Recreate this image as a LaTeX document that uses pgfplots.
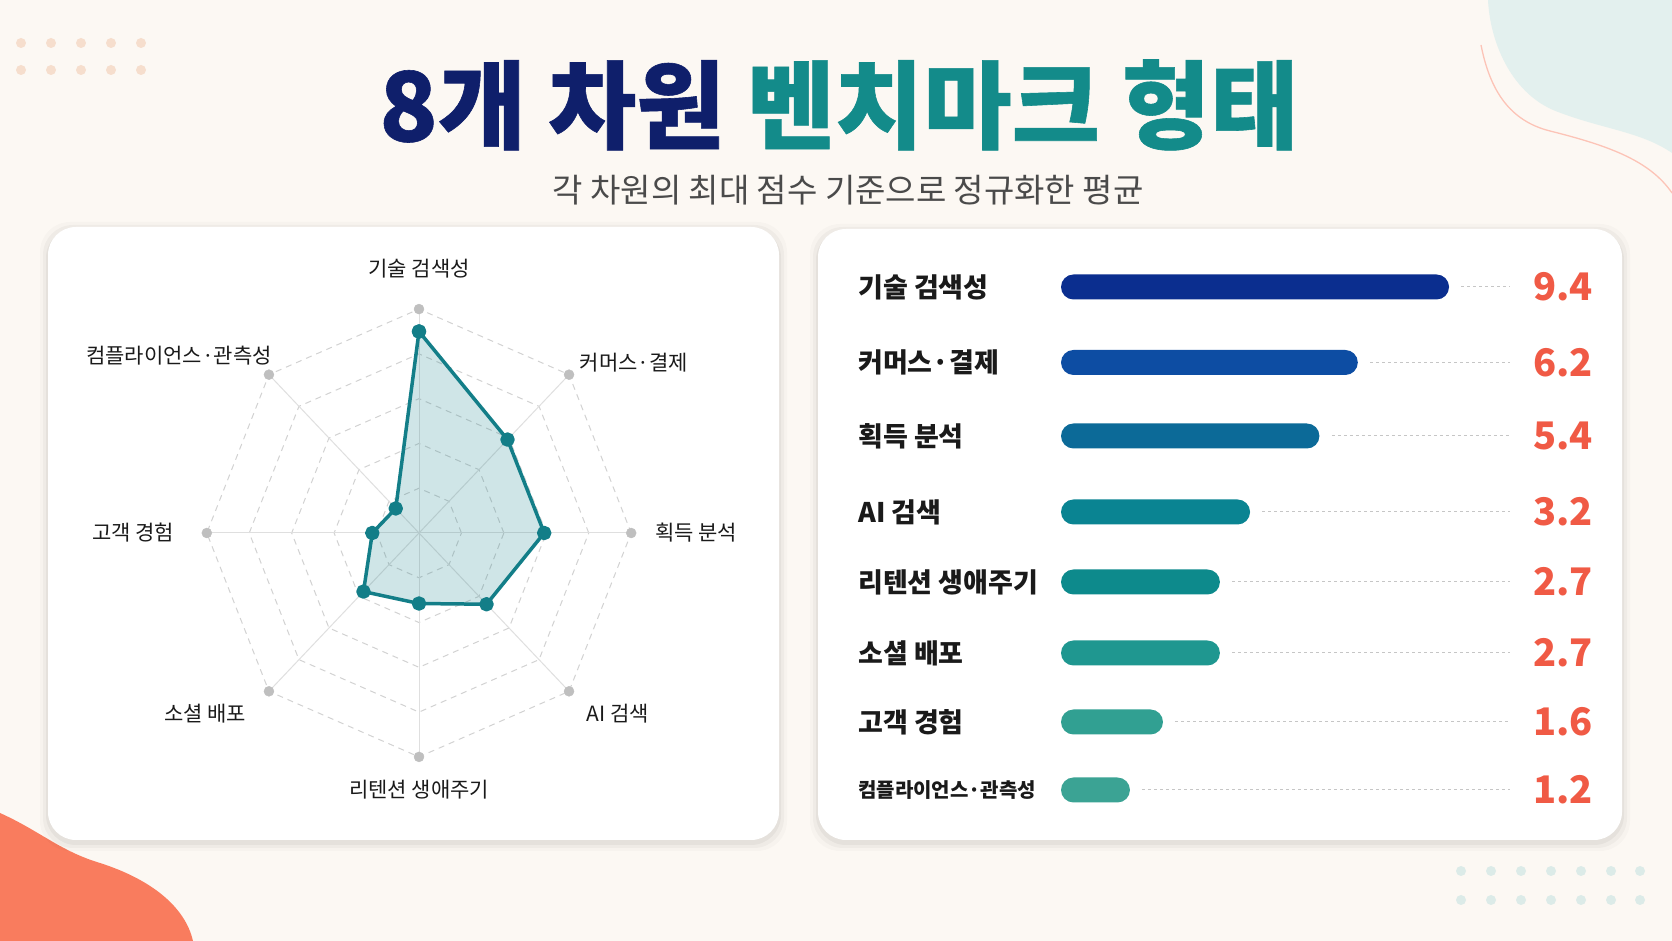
\documentclass[border=0pt]{standalone}
\usepackage{fontspec}
\setmainfont{Noto Sans CJK KR}
\newfontfamily\heavy[FakeBold=0.6]{Noto Sans CJK KR}
\usepackage{pgfplots}
\pgfplotsset{compat=1.18}
\definecolor{bg}{HTML}{FCF8F3}
\definecolor{navyT}{HTML}{0F1F6B}
\definecolor{tealT}{HTML}{138B8A}
\definecolor{subG}{HTML}{4A4A4A}
\definecolor{coralV}{HTML}{F05A45}
\definecolor{coralB}{HTML}{F97C5E}
\definecolor{mint}{HTML}{E3F0EE}
\definecolor{peach}{HTML}{F6DECD}
\definecolor{mintdot}{HTML}{DCEBE8}
\definecolor{dteal}{HTML}{137E88}
\definecolor{b1}{HTML}{0B2E8F}
\definecolor{b2}{HTML}{0D4DA3}
\definecolor{b3}{HTML}{0C6A98}
\definecolor{b4}{HTML}{0A8492}
\definecolor{b5}{HTML}{0D8A8C}
\definecolor{b6}{HTML}{1F9790}
\definecolor{b7}{HTML}{31A092}
\definecolor{b8}{HTML}{3BA394}
\definecolor{txt}{HTML}{1A1A1A}
\begin{document}
\begin{tikzpicture}[x=1pt,y=1pt]
\fill[bg] (0,0) rectangle (1672,941);
\path[use as bounding box] (0,0) rectangle (1672,941);
% decorative blobs
\fill[coralB] (0,128) .. controls (40,110) and (60,90) .. (100,78) .. controls (150,62) and (185,35) .. (193,0) -- (0,0) -- cycle;
\fill[mint] (1488,941) .. controls (1490,900) and (1510,850) .. (1553,831) .. controls (1600,812) and (1640,810) .. (1672,788) -- (1672,941) -- cycle;
\draw[coralB!45, line width=1.3] (1481,896) .. controls (1490,850) and (1510,820) .. (1550,810) .. controls (1610,795) and (1650,780) .. (1672,748);
\foreach \xx in {21,51,81,111,141} {\foreach \yy in {898,871} {\fill[peach] (\xx,\yy) circle (5);}}
\foreach \xx in {1461,1491,1521,1551,1581,1611,1640} {\foreach \yy in {70,41} {\fill[mintdot] (\xx,\yy) circle (5);}}
% title
\node[anchor=center, inner sep=0] at (839,836) {\fontsize{96}{106}\selectfont\heavy\bfseries\color{navyT}8개 차원 \color{tealT}벤치마크 형태};
\node[anchor=center, inner sep=0] at (848,751) {\fontsize{33}{38}\selectfont\color{subG}각 차원의 최대 점수 기준으로 정규화한 평균};
% cards with soft shadow
\foreach \o/\a in {8/0.02,5/0.03,2/0.04} {
  \fill[black, opacity=\a, rounded corners=30] (48-\o,101-\o-3) rectangle (779+\o,714+\o-3);
  \fill[black, opacity=\a, rounded corners=30] (818-\o,101-\o-3) rectangle (1622+\o,712+\o-3);
}
\fill[white, rounded corners=28] (48,101) rectangle (779,714);
\fill[white, rounded corners=28] (818,101) rectangle (1622,712);
% radar (angle, radius) in polar data coordinates
\begin{axis}[at={(419pt,408pt)}, anchor=center, x=21.22pt, y=22.39pt, xmin=-10, xmax=10, ymin=-10, ymax=10, hide axis, clip=false, data cs=polar]
\addplot[gray!35, dash pattern=on 6pt off 5pt, line width=1pt] coordinates {(0,2) (45,2) (90,2) (135,2) (180,2) (225,2) (270,2) (315,2) (360,2)};
\addplot[gray!35, dash pattern=on 6pt off 5pt, line width=1pt] coordinates {(0,4) (45,4) (90,4) (135,4) (180,4) (225,4) (270,4) (315,4) (360,4)};
\addplot[gray!35, dash pattern=on 6pt off 5pt, line width=1pt] coordinates {(0,6) (45,6) (90,6) (135,6) (180,6) (225,6) (270,6) (315,6) (360,6)};
\addplot[gray!35, dash pattern=on 6pt off 5pt, line width=1pt] coordinates {(0,8) (45,8) (90,8) (135,8) (180,8) (225,8) (270,8) (315,8) (360,8)};
\addplot[gray!35, dash pattern=on 6pt off 5pt, line width=1pt] coordinates {(0,10) (45,10) (90,10) (135,10) (180,10) (225,10) (270,10) (315,10) (360,10)};
\addplot[gray!25, line width=1pt] coordinates {(90,10) (270,10)};
\addplot[gray!25, line width=1pt] coordinates {(0,10) (180,10)};
\addplot[gray!25, line width=1pt] coordinates {(45,10) (225,10)};
\addplot[gray!25, line width=1pt] coordinates {(135,10) (315,10)};
\addplot[only marks, mark=*, mark size=5pt, color=gray!50] coordinates {(0,10) (45,10) (90,10) (135,10) (180,10) (225,10) (270,10) (315,10)};
\addplot[dteal, line width=3.5pt, line join=round, line cap=round, fill=dteal, fill opacity=0.2, mark=*, mark size=5.5pt, mark options={fill=dteal, fill opacity=1, draw=dteal}]
  coordinates {(90,9.0) (45,5.9) (0,5.9) (-45,4.5) (-90,3.15) (-135,3.7) (180,2.2) (135,1.55) (90,9.0)};
\end{axis}
% radar labels
\begin{scope}[every node/.style={inner sep=0, text=txt, font=\fontsize{21}{25}\selectfont}]
\node at (419,672) {기술 검색성};
\node at (634,578) {커머스·결제};
\node at (696,408) {획득 분석};
\node at (618,227) {AI 검색};
\node at (419,151) {리텐션 생애주기};
\node at (205,227) {소셜 배포};
\node at (133,408) {고객 경험};
\node at (179,585) {컴플라이언스·관측성};
\end{scope}
% bars
\begin{axis}[at={(1061pt,0pt)}, anchor=south west, x=41.28pt, y=1pt, xmin=0, xmax=13.5, ymin=0, ymax=941, hide axis, clip=false]
\addplot[xbar, bar shift=0pt, bar width=25pt, fill=b1, draw=none, rounded corners=12.5pt] coordinates {(9.40,654)};
\addplot[xbar, bar shift=0pt, bar width=25pt, fill=b2, draw=none, rounded corners=12.5pt] coordinates {(7.19,578.5)};
\addplot[xbar, bar shift=0pt, bar width=25pt, fill=b3, draw=none, rounded corners=12.5pt] coordinates {(6.26,505)};
\addplot[xbar, bar shift=0pt, bar width=25pt, fill=b4, draw=none, rounded corners=12.5pt] coordinates {(4.58,429)};
\addplot[xbar, bar shift=0pt, bar width=25pt, fill=b5, draw=none, rounded corners=12.5pt] coordinates {(3.85,359)};
\addplot[xbar, bar shift=0pt, bar width=25pt, fill=b6, draw=none, rounded corners=12.5pt] coordinates {(3.85,288)};
\addplot[xbar, bar shift=0pt, bar width=25pt, fill=b7, draw=none, rounded corners=12.5pt] coordinates {(2.47,219)};
\addplot[xbar, bar shift=0pt, bar width=25pt, fill=b8, draw=none, rounded corners=12.5pt] coordinates {(1.67,151)};
\pgfplotsset{leader/.style={gray!45, dash pattern=on 3pt off 3pt, line width=1pt}}
\addplot[leader] coordinates {(9.70,654) (10.88,654)};
\addplot[leader] coordinates {(7.49,578.5) (10.88,578.5)};
\addplot[leader] coordinates {(6.56,505) (10.88,505)};
\addplot[leader] coordinates {(4.88,429) (10.88,429)};
\addplot[leader] coordinates {(4.15,359) (10.88,359)};
\addplot[leader] coordinates {(4.15,288) (10.88,288)};
\addplot[leader] coordinates {(2.77,219) (10.88,219)};
\addplot[leader] coordinates {(1.97,151) (10.88,151)};
\begin{scope}[every node/.style={anchor=east, inner sep=0, text=coralV, font=\fontsize{38}{42}\selectfont\bfseries}]
\node at (axis cs:12.89,654) {9.4};
\node at (axis cs:12.89,578.5) {6.2};
\node at (axis cs:12.89,505) {5.4};
\node at (axis cs:12.89,429) {3.2};
\node at (axis cs:12.89,359) {2.7};
\node at (axis cs:12.89,288) {2.7};
\node at (axis cs:12.89,219) {1.6};
\node at (axis cs:12.89,151) {1.2};
\end{scope}
\end{axis}
\begin{scope}[every node/.style={anchor=west, inner sep=0, text=txt, font=\fontsize{27}{32}\selectfont\bfseries}]
\node at (858,654) {기술 검색성};
\node at (858,578.5) {커머스·결제};
\node at (858,505) {획득 분석};
\node at (858,429) {AI 검색};
\node at (858,359) {리텐션 생애주기};
\node at (858,288) {소셜 배포};
\node at (858,219) {고객 경험};
\node[font=\fontsize{20}{24}\selectfont\bfseries] at (858,151) {컴플라이언스·관측성};
\end{scope}
\end{tikzpicture}
\end{document}
